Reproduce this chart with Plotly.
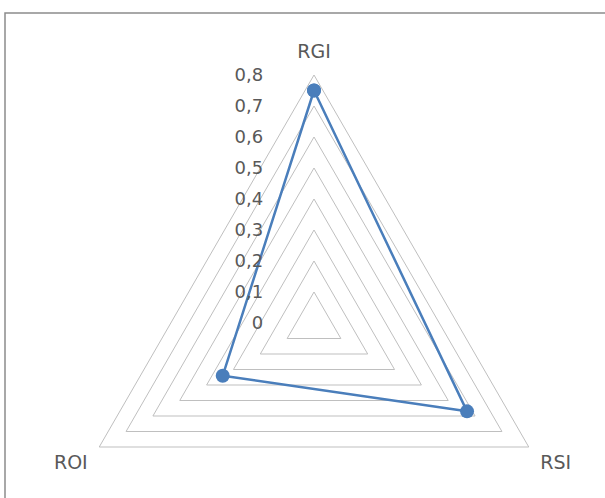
import plotly.graph_objects as go

categories = ["RGI", "RSI", "ROI"]
values = [0.75, 0.57, 0.34]
radial_ticks = [0, 0.1, 0.2, 0.3, 0.4, 0.5, 0.6, 0.7, 0.8]

W, H = 605, 600
cx, cy, R = 314, 323, 248

fig = go.Figure(go.Scatterpolar(
    r=values + values[:1], theta=categories + categories[:1],
    mode='lines+markers', line=dict(color='#4A7EBB', width=2.5),
    marker=dict(size=14, color='#4A7EBB'), cliponaxis=False))

fig.update_layout(
    width=W, height=H, margin=dict(l=0, r=0, t=0, b=0),
    separators=',.', paper_bgcolor='white', showlegend=False,
    font=dict(family='DejaVu Sans', color='#595959', size=18),
    polar=dict(
        domain=dict(x=[(cx - R) / W, (cx + R) / W], y=[1 - (cy + R) / H, 1 - (cy - R) / H]),
        gridshape='linear', bgcolor='white',
        radialaxis=dict(range=[0, 0.8], tickvals=radial_ticks, angle=90, tickangle=90,
                        showline=False, gridcolor='#BFBFBF', gridwidth=1,
                        ticks='outside', ticklen=44, tickcolor='rgba(0,0,0,0)',
                        tickfont=dict(size=18), side='counterclockwise'),
        angularaxis=dict(rotation=90, direction='clockwise', showgrid=False,
                         showline=True, linecolor='#BFBFBF', linewidth=1,
                         ticks='outside', ticklen=9, tickcolor='rgba(0,0,0,0)',
                         tickfont=dict(size=19))
    ),
    shapes=[dict(type='rect', xref='paper', yref='paper', x0=5 / W, x1=1.05,
                 y0=-0.1, y1=1 - 13 / H, line=dict(color='#8C8C8C', width=1.5),
                 layer='below')]
)

fig.write_html("out.html", config={'displayModeBar': False}, post_script=(
    "document.body.style.margin='0';"
    "document.body.style.overflow='hidden';"
    "document.documentElement.style.overflow='hidden';"))
